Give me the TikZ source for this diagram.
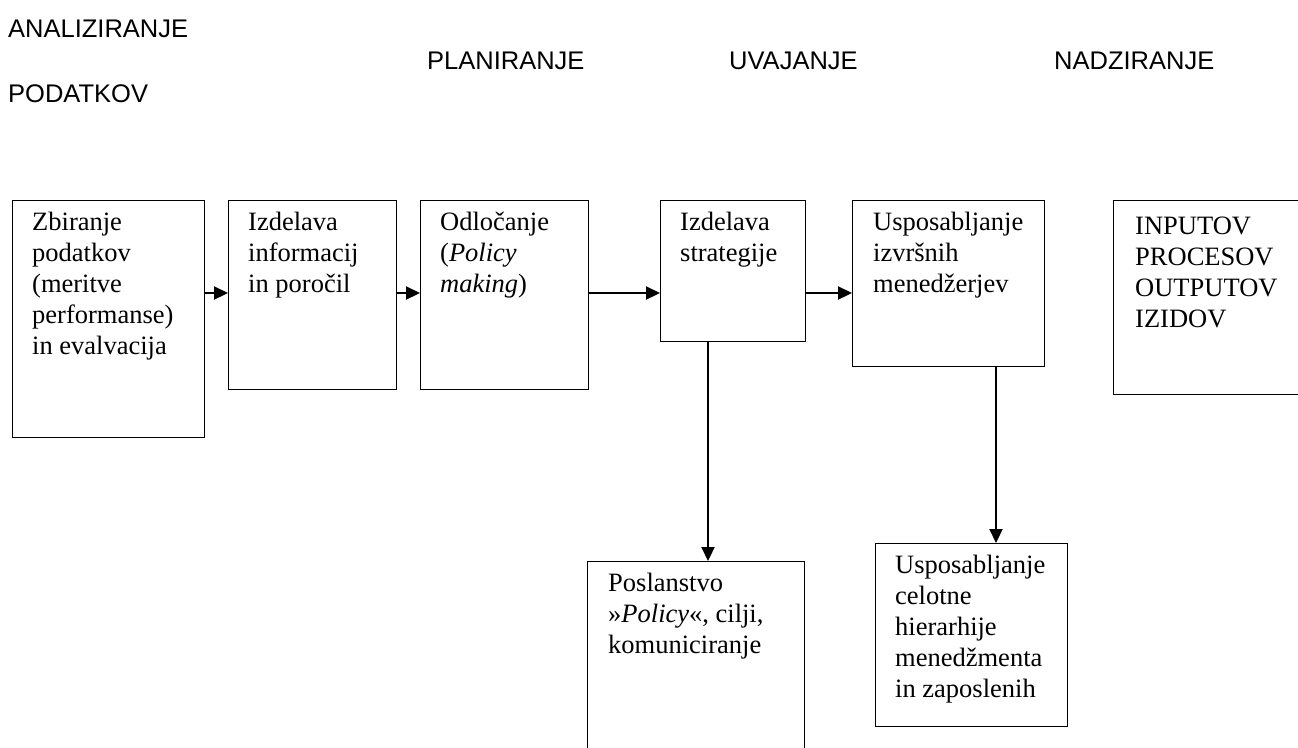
\documentclass[tikz,border=0pt]{standalone}
\usepackage{fontspec}
\setmainfont{Liberation Serif}
\newfontfamily\titlefont{Liberation Sans}
\usetikzlibrary{arrows.meta,calc}
\tikzset{
 box/.style={draw, line width=1.3pt, inner sep=0pt, anchor=north west},
 txt/.style={font=\fontsize{26.5}{31}\selectfont, align=left, inner sep=0pt, anchor=north west},
 ttl/.style={font=\titlefont\fontsize{25.5}{30}\selectfont, inner sep=0pt, anchor=base west},
 arr/.style={line width=2.2pt, -{Triangle[length=14pt,width=13pt]}},
}
\begin{document}
\begin{tikzpicture}[x=1pt,y=-1pt]
\path[use as bounding box] (0,0) rectangle (1298,747);
\clip (0,0) rectangle (1298,747);
% titles
\node[ttl] (t1) at (8,37) {ANALIZIRANJE};
\node[ttl] (t2) at (8,102) {PODATKOV};
\node[ttl] (t3) at (427,69) {PLANIRANJE};
\node[ttl] (t4) at (729,69) {UVAJANJE};
\node[ttl] (t5) at (1054,69) {NADZIRANJE};
% boxes
\node[box, minimum width=192pt, minimum height=237pt] (b1) at (12,200) {};
\node[box, minimum width=168pt, minimum height=189pt] (b2) at (228,200) {};
\node[box, minimum width=168pt, minimum height=189pt] (b3) at (420,200) {};
\node[box, minimum width=145pt, minimum height=141pt] (b4) at (660,200) {};
\node[box, minimum width=192pt, minimum height=166pt] (b5) at (852,200) {};
\node[box, minimum width=200pt, minimum height=194pt] (b6) at (1113,200) {};
\node[box, minimum width=217pt, minimum height=200pt] (b7) at (587,561) {};
\node[box, minimum width=192pt, minimum height=183pt] (b8) at (875,543) {};
% texts
\node[txt] (x1) at (32,208.3) {\strut Zbiranje\\podatkov\\(meritve\\performanse)\\in evalvacija};
\node[txt] (x2) at (248,208.3) {\strut Izdelava\\informacij\\in poročil};
\node[txt] (x3) at (440,208.3) {\strut Odločanje\\(\textit{Policy}\\\textit{making})};
\node[txt] (x4) at (680,208.3) {\strut Izdelava\\strategije};
\node[txt] (x5) at (873,208.3) {\strut Usposabljanje\\izvršnih\\menedžerjev};
\node[txt] (x6) at (1135,212.3) {\strut INPUTOV\\PROCESOV\\OUTPUTOV\\IZIDOV};
\node[txt] (x7) at (608,569.3) {\strut Poslanstvo\\»\textit{Policy}«, cilji,\\komuniciranje};
\node[txt] (x8) at (895,551.3) {\strut Usposabljanje\\celotne\\hierarhije\\menedžmenta\\in zaposlenih};
% arrows
\coordinate (h) at (0,293);
\draw[arr] (b1.east |- h) -- (b2.west |- h);
\draw[arr] (b2.east |- h) -- (b3.west |- h);
\draw[arr] (b3.east |- h) -- (b4.west |- h);
\draw[arr] (b4.east |- h) -- (b5.west |- h);
\coordinate (v1) at (708,0);
\coordinate (v2) at (996,0);
\draw[arr] (v1 |- b4.south) -- (v1 |- b7.north);
\draw[arr] (v2 |- b5.south) -- (v2 |- b8.north);
\end{tikzpicture}
\end{document}
